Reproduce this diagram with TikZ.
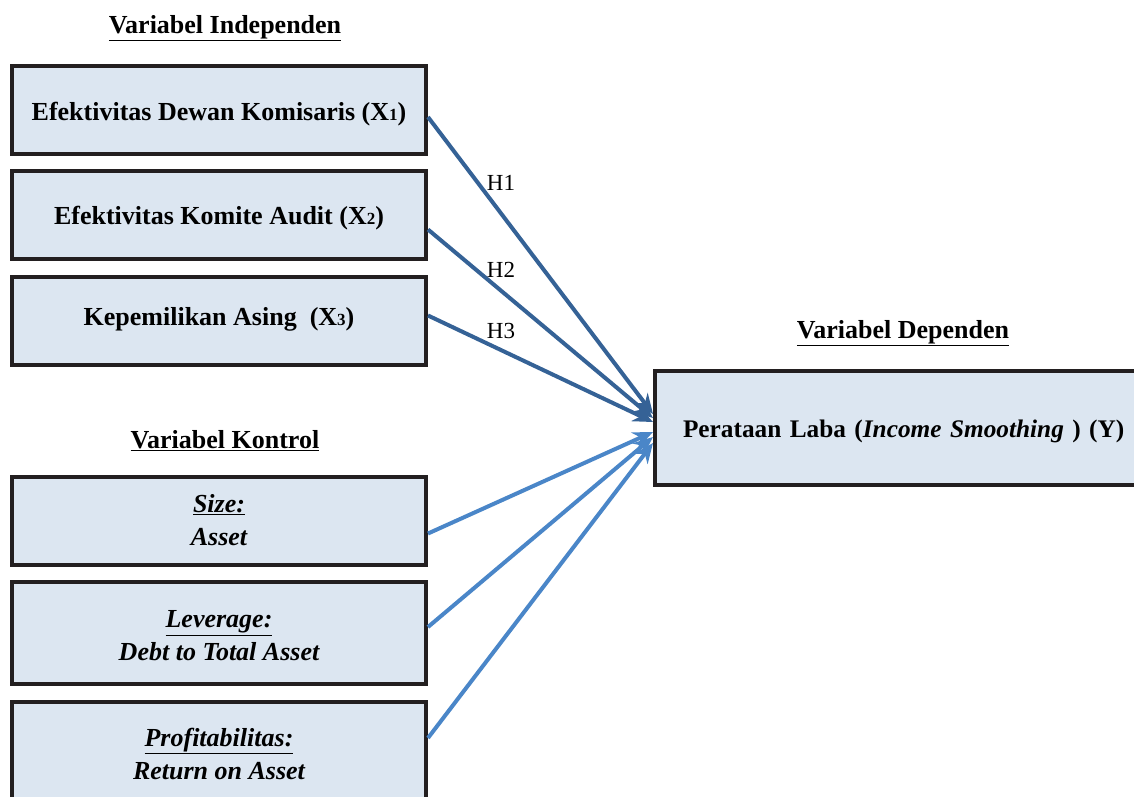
\documentclass[tikz,border=0pt]{standalone}
\usepackage{fontspec}
\setmainfont{Liberation Serif}
\usetikzlibrary{arrows.meta}
\definecolor{boxfill}{RGB}{220,230,241}
\definecolor{boxline}{RGB}{35,31,32}
\definecolor{darkarr}{RGB}{53,98,150}
\definecolor{lightarr}{RGB}{74,134,200}
\newcommand{\sub}[1]{{\fontsize{17}{17}\selectfont #1}}
\newcommand{\lowr}[2]{\raisebox{#1}[\height][\depth]{#2}}
\tikzset{
  box/.style={draw=boxline, line width=4pt, fill=boxfill, minimum width=414pt, inner sep=0pt, align=center, font=\fontsize{26}{33}\selectfont\bfseries},
  head/.style={font=\fontsize{26}{32}\selectfont\bfseries, inner sep=0pt},
  hlabel/.style={font=\fontsize{23}{28}\selectfont, inner sep=0pt},
  darrow/.style={draw=darkarr, line width=4pt, -{Stealth[length=20pt,width=17pt]}},
  larrow/.style={draw=lightarr, line width=4pt, -{Stealth[length=20pt,width=17pt]}},
}
\begin{document}
\begin{tikzpicture}[x=1pt,y=-1pt]
\useasboundingbox (0,0) rectangle (1134,797);
\node[head] (hind) at (225,28) {\underline{Variabel Independen}};
\node[head] (hkon) at (225,441) {\underline{Variabel Kontrol}};
\node[head] (hdep) at (903,333) {\underline{Variabel Dependen}};

\node[box, minimum height=88pt] (x1) at (219,110) {\lowr{-4pt}{Efektivitas Dewan Komisaris (X\sub{1})}};
\node[box, minimum height=88pt] (x2) at (219,214.5) {\lowr{-4pt}{Efektivitas Komite Audit (X\sub{2})}};
\node[box, minimum height=88pt] (x3) at (219,320.5) {\lowr{1pt}{Kepemilikan Asing\ \ (X\sub{3})}};
\node[box, minimum height=88pt] (c1) at (219,520.5) {\itshape\underline{Size:}\\ \itshape Asset};
\node[box, minimum height=102pt] (c2) at (219,633) {\lowr{-3pt}{\itshape\underline{Leverage:}}\\ \lowr{-3pt}{\itshape Debt to Total Asset}};
\node[box, minimum height=104pt] (c3) at (219,754) {\itshape\underline{Profitabilitas:}\\ \itshape Return on Asset};

\node[box, minimum width=500pt, minimum height=114pt, text width=480pt, align=left, font=\fontsize{25.3}{30}\selectfont\bfseries] (dep) at (905,428) {\hspace*{18pt}\lowr{-3pt}{Perataan Laba (\textit{Income Smoothing} ) (Y)}};

\draw[darrow] ([yshift=-7pt]x1.east) -- ([yshift=14pt]dep.west);
\draw[darrow] ([yshift=-15pt]x2.east) -- ([yshift=10pt]dep.west);
\draw[darrow] ([yshift=5pt]x3.east) -- ([yshift=6pt]dep.west);
\draw[larrow] ([yshift=-13pt]c1.east) -- ([yshift=-4pt]dep.west);
\draw[larrow] ([yshift=6pt]c2.east) -- ([yshift=-9pt]dep.west);
\draw[larrow] ([yshift=16pt]c3.east) -- ([yshift=-15pt]dep.west);

\node[hlabel] (h1) at (501,183) {H1};
\node[hlabel] (h2) at (501,270) {H2};
\node[hlabel] (h3) at (501,331) {H3};
\end{tikzpicture}
\end{document}
